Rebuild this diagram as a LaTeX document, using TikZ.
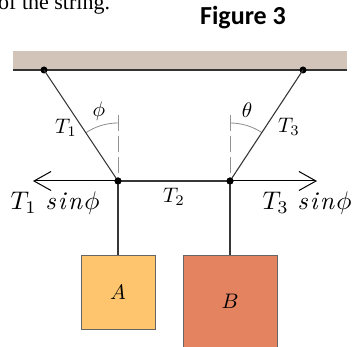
\documentclass[tikz,border=0pt]{standalone}
\usepackage{fontspec}
\newfontfamily\figfont{Carlito}
\newfontfamily\textserif{Liberation Serif}
\usetikzlibrary{arrows.meta}
\definecolor{ceil}{RGB}{211,196,186}
\definecolor{boxA}{RGB}{254,197,110}
\definecolor{boxB}{RGB}{227,131,96}
\definecolor{strg}{RGB}{55,55,55}
\tikzset{
  rope/.style={draw=strg, line width=1.1pt},
  knot/.style={circle, fill=black, inner sep=0pt, minimum size=7pt},
  guide/.style={draw=gray!85, line width=0.9pt, dash pattern=on 16pt off 5pt},
  anglearc/.style={draw=gray!90, line width=0.8pt},
  force/.style={draw=black, line width=1pt, -{Straight Barb[length=17pt,width=19pt,line width=1pt]}},
  mass/.style={draw=gray!80!black, line width=0.9pt},
  lbl/.style={inner sep=0pt, scale=2.1},
  biglbl/.style={inner sep=0pt, scale=2.55, anchor=base west},
}
\newcommand{\tsinlabel}[1]{$T_{#1}\mkern6mu\mathit{s}\mkern1.5mu\mathit{i}\mkern1.5mu\mathit{n}\mkern1.5mu\phi$}
\begin{document}
\begin{tikzpicture}[x=1pt,y=-1pt]
\useasboundingbox (0,0) rectangle (359,347);
\clip (0,0) rectangle (359,347);
% partial text at top
\node[anchor=base west, inner sep=0pt, font=\textserif\fontsize{22}{22}\selectfont] (prev) at (-2,10) {of the string.};
\node[anchor=base, inner sep=0pt, font=\figfont\bfseries\fontsize{26}{26}\selectfont] (fig) at (243,25) {Figure 3};
% ceiling
\fill[ceil] (13,51) rectangle (347,70);
\draw[draw=gray!40!black, line width=1.3pt] (13,70) -- (347,70);
% points
\node[knot] (a1) at (44,70) {};
\node[knot] (a2) at (303,70) {};
\node[knot] (k1) at (118,181) {};
\node[knot] (k2) at (230,181) {};
\coordinate (g1) at (118,115);
\coordinate (g2) at (230,115);
\coordinate (l1) at (33,181);
\coordinate (r1) at (317,181);
% boxes
\node[mass, fill=boxA, minimum width=74pt, minimum height=74pt, inner sep=0pt, anchor=north] (A) at (118,255) {};
\node[mass, fill=boxB, minimum width=94pt, minimum height=94pt, inner sep=0pt, anchor=north] (B) at (230,255) {};
% guides
\draw[guide] (g1) -- (k1.center);
\draw[guide] (g2) -- (k2.center);
% arcs
\draw[anglearc] (118,123) arc[start angle=270, end angle=236.3, radius=58];
\draw[anglearc] (230,123) arc[start angle=270, end angle=303.3, radius=58];
% ropes
\draw[rope] (a1.center) -- (k1.center);
\draw[rope] (a2.center) -- (k2.center);
\draw[rope] (k1.center) -- (k2.center);
\draw[rope] (k1.center) -- (A.north);
\draw[rope] (k2.center) -- (B.north);
% forces
\draw[force] (k1.center) -- (l1);
\draw[force] (k2.center) -- (r1);
\node[knot] at (k1) {};
\node[knot] at (k2) {};
% labels
\node[lbl] (phi) at (99,111) {$\phi$};
\node[lbl] (th) at (247,110) {$\theta$};
\node[lbl] (t1) at (66,128) {$T_1$};
\node[lbl] (t3) at (289,127) {$T_3$};
\node[lbl] (t2) at (174,197) {$T_2$};
\node[lbl] (la) at (A.center) {$A$};
\node[lbl] (lb) at (230,301) {$B$};
\node[biglbl] (f1) at (10,210) {\tsinlabel{1}};
\node[biglbl] (f3) at (262,210) {\tsinlabel{3}};
\end{tikzpicture}
\end{document}
